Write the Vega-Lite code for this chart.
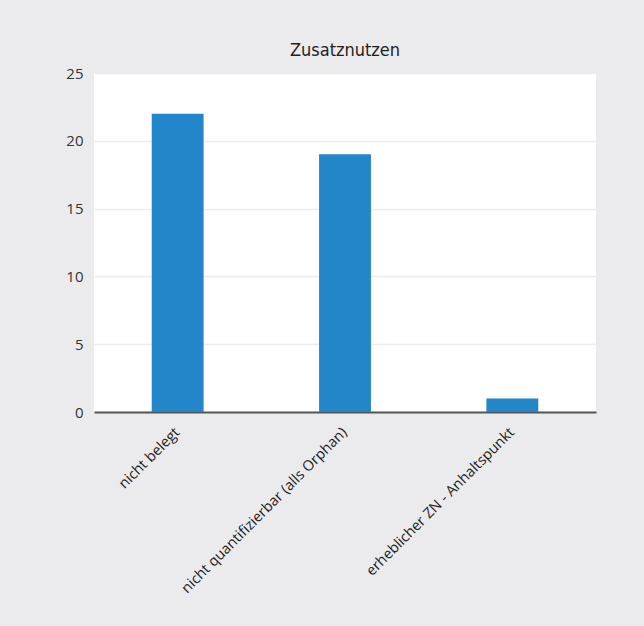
{
  "$schema": "https://vega.github.io/schema/vega-lite/v6.json",
  "width": 502,
  "height": 339,
  "autosize": {"type": "none"},
  "padding": {"left": 94, "top": 73, "right": 48, "bottom": 214},
  "background": "#ebebed",
  "view": {"fill": "#ffffff", "stroke": null},
  "title": {
    "text": "Zusatznutzen",
    "font": "DejaVu Sans Condensed",
    "fontSize": 18,
    "fontWeight": "normal",
    "color": "#1e1e1e",
    "anchor": "middle",
    "offset": 6
  },
  "data": {
    "values": [
      {"kategorie": "nicht belegt", "anzahl": 22},
      {"kategorie": "nicht quantifizierbar (alls Orphan)", "anzahl": 19},
      {"kategorie": "erheblicher ZN - Anhaltspunkt", "anzahl": 1}
    ]
  },
  "mark": {"type": "bar", "color": "#2286c9", "width": {"band": 0.31}},
  "encoding": {
    "x": {
      "field": "kategorie",
      "type": "nominal",
      "sort": null,
      "scale": {"paddingInner": 0, "paddingOuter": 0},
      "axis": {
        "title": null,
        "labelAngle": -45,
        "labelAlign": "right",
        "labelBaseline": "middle",
        "labelFont": "Open Sans",
        "labelFontSize": 14.5,
        "labelColor": "#222222",
        "labelPadding": 18,
        "labelLimit": 400,
        "ticks": false,
        "domainColor": "#555555",
        "domainWidth": 2
      }
    },
    "y": {
      "field": "anzahl",
      "type": "quantitative",
      "scale": {"domain": [0, 25]},
      "axis": {
        "title": null,
        "values": [0, 5, 10, 15, 20, 25],
        "labelFont": "Open Sans",
        "labelFontSize": 15,
        "labelColor": "#333333",
        "labelPadding": 11,
        "ticks": false,
        "domain": false,
        "gridColor": "#ececec",
        "gridWidth": 1.5
      }
    }
  }
}
